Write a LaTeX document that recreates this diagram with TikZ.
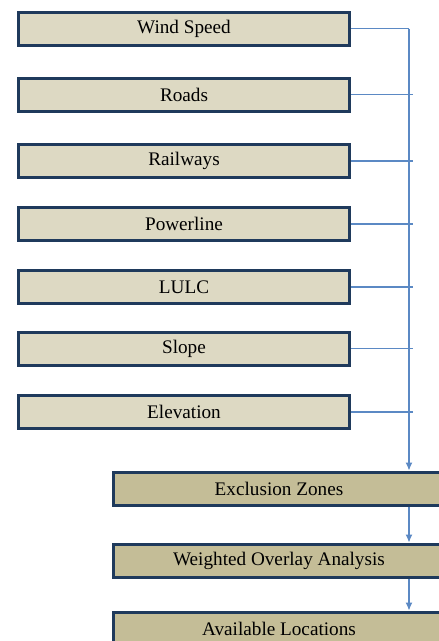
\documentclass[tikz,border=0pt]{standalone}
\usepackage{fontspec}
\setmainfont{Liberation Serif}
\usetikzlibrary{arrows.meta}
\definecolor{inputfill}{HTML}{DDD9C3}
\definecolor{stagefill}{HTML}{C4BD97}
\definecolor{boxline}{HTML}{1F3A5C}
\definecolor{linkblue}{HTML}{5B89C4}
\tikzset{
  inputbox/.style={draw=boxline, line width=3pt, fill=inputfill,
    minimum width=331pt, minimum height=33pt, inner sep=0pt,
    font=\fontsize{19.2}{22}\selectfont, text=black},
  stagebox/.style={inputbox, fill=stagefill},
  link/.style={draw=linkblue, line width=1.1pt},
  linkarrow/.style={link, -{Latex[length=8pt,width=7pt]}}
}
\begin{document}
\begin{tikzpicture}[x=1pt,y=-1pt]
\useasboundingbox (0,0) rectangle (439,641);
% input layers
\node[inputbox] (ws) at (184,28.7) {Wind Speed};
\node[inputbox] (rd) at (184,94.5) {Roads};
\node[inputbox] (rw) at (184,161) {Railways};
\node[inputbox] (pl) at (184,224) {Powerline};
\node[inputbox] (lc) at (184,287) {LULC};
\node[inputbox] (sl) at (184,348.5) {Slope};
\node[inputbox] (el) at (184,412) {Elevation};
% processing stages
\node[stagebox] (ex) at (279,488.5) {Exclusion Zones};
\node[stagebox] (wo) at (279,560.5) {Weighted Overlay Analysis};
\node[stagebox] (al) at (279,628.5) {Available Locations};
% collector line
\coordinate (bustop) at (409,28.7);
\coordinate (busend) at (412.5,0);
\draw[link] (ws.east) -- (bustop);
\foreach \n in {rd,rw,pl,lc,sl,el}
  \draw[link] (\n.east) -- (\n.east -| busend);
\draw[linkarrow] (bustop) -- (bustop |- ex.north);
% flow between stages
\draw[linkarrow] (ex.south -| bustop) -- (wo.north -| bustop);
\draw[linkarrow] (wo.south -| bustop) -- (al.north -| bustop);
\end{tikzpicture}
\end{document}
